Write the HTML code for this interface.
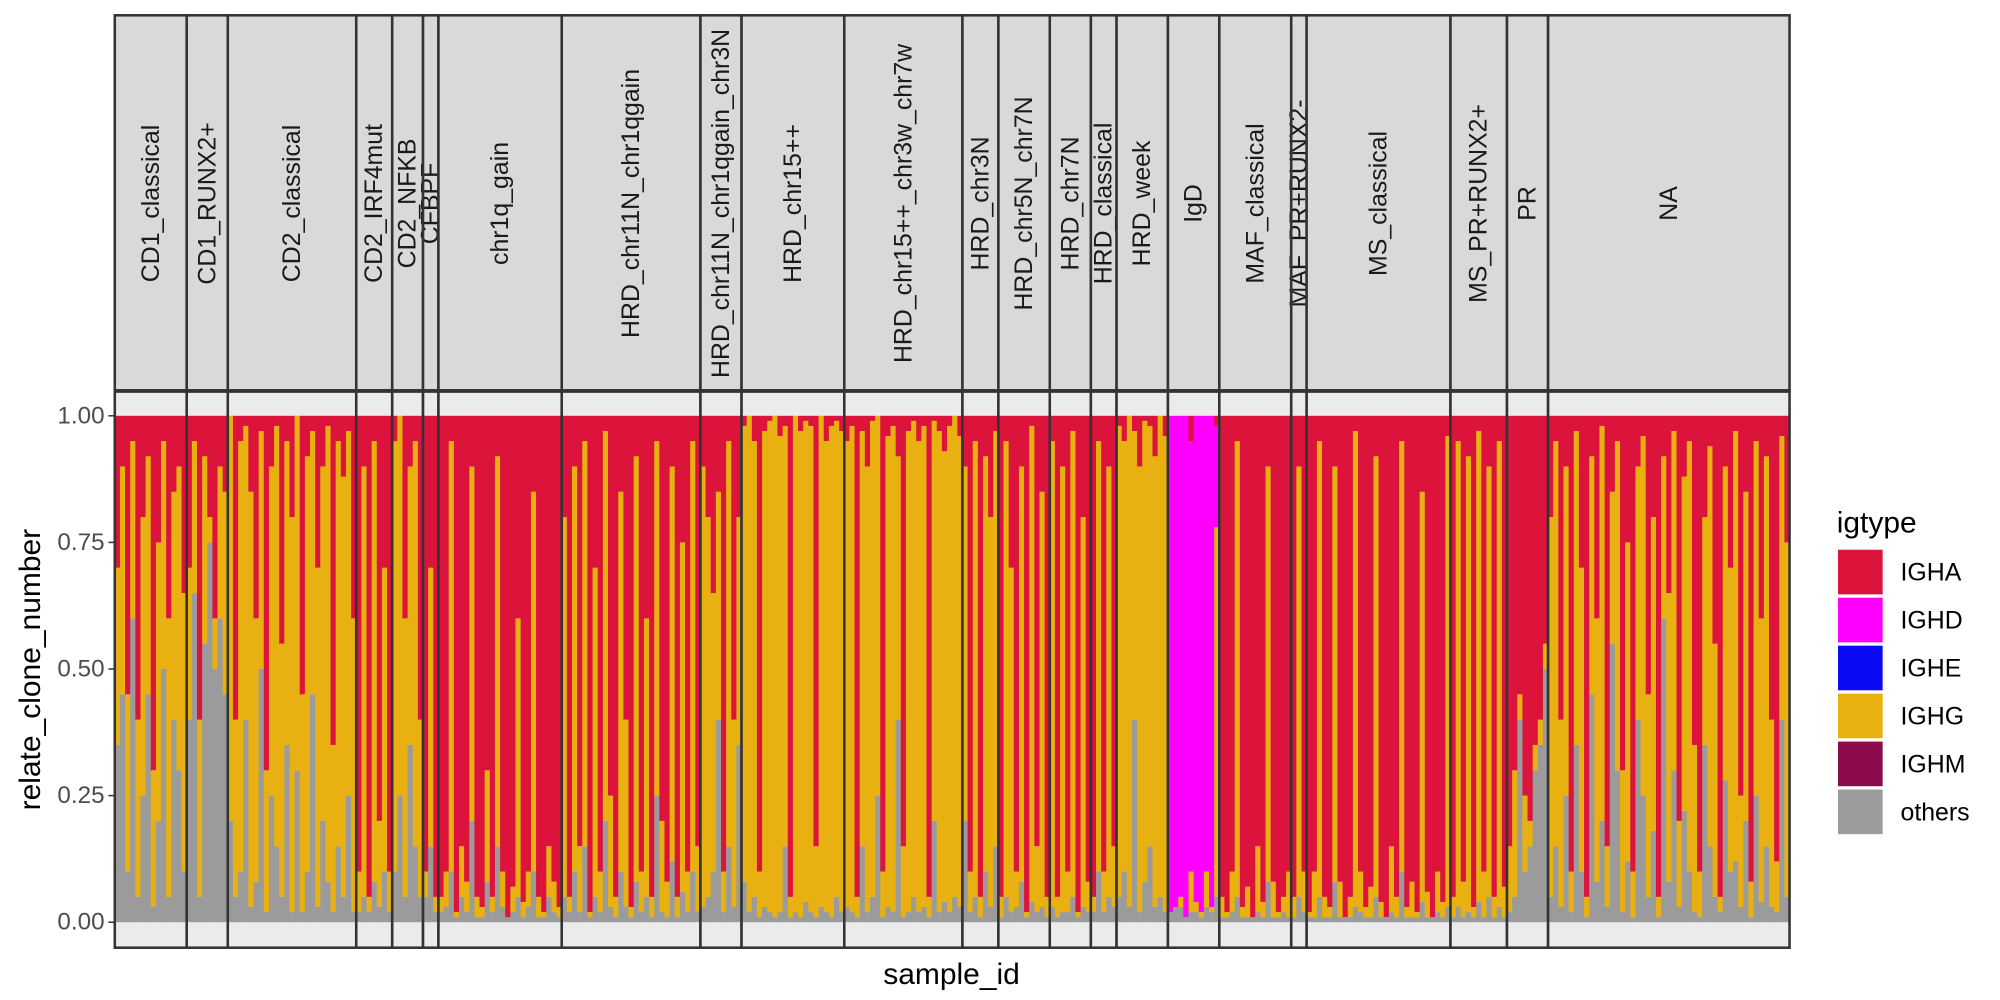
<!DOCTYPE html>
<html><head><meta charset="utf-8"><style>
html,body{margin:0;padding:0;background:#fff;}
svg{display:block;font-family:"Liberation Sans",sans-serif;}
</style></head><body>
<svg id="chart" width="2000" height="1000" viewBox="0 0 1568 784" xmlns="http://www.w3.org/2000/svg">
<g id="panels"></g>
<g id="axes"></g>
<g id="legend"></g>
</svg>
<script>
const facetNames = ["CD1_classical","CD1_RUNX2+","CD2_classical","CD2_IRF4mut","CD2_NFKB","CFBPF","chr1q_gain","HRD_chr11N_chr1qgain","HRD_chr11N_chr1qgain_chr3N","HRD_chr15++","HRD_chr15++_chr3w_chr7w","HRD_chr3N","HRD_chr5N_chr7N","HRD_chr7N","HRD_classical","HRD_week","IgD","MAF_classical","MAF_PR+RUNX2-","MS_classical","MS_PR+RUNX2+","PR","NA"];
const ighaValues = [
 [30,10,55,5,60,20,8,70,25,5,40,15,10,35],
 [30,5,60,8,20,40,10,15],
 [0,60,5,2,15,40,3,70,10,2,45,5,20,0,55,8,3,30,10,2,65,5,12,3,40],
 [90,10,95,5,80,30,90],
 [5,0,40,10,5,60],
 [90,30,95],
 [95,90,5,98,85,92,10,95,97,70,95,8,90,99,93,40,96,90,15,95,98,85,92,97],
 [20,95,10,85,5,98,30,90,3,75,95,15,60,97,8,90,40,95,5,80,92,10,95,25,90,5,85],
 [10,20,35,15,90,5,60,20],
 [2,0,5,90,3,1,0,4,2,95,0,3,1,2,85,0,5,2,1,3],
 [5,2,95,3,10,1,0,90,4,2,8,85,3,1,5,2,95,1,3,7,2,0,4],
 [10,90,5,95,8,20,3],
 [95,5,30,90,10,98,2,85,15,95],
 [5,95,10,90,3,98,20,92],
 [95,5,90,10,85],
 [2,5,0,3,10,1,2,8,0,4],
 [0,0,0,0,5,0,0,0,0,2],
 [95,98,90,5,97,93,99,85,96,10,92,98,95,90],
 [95,10,90],
 [98,90,5,95,97,10,92,99,95,3,90,97,93,8,96,99,85,95,5,97,92,98,15,94,99,90,96,4],
 [95,5,92,8,97,3,90,10,95,5,93],
 [85,70,55,75,80,65,60,45],
 [20,5,60,10,90,3,30,95,8,40,2,85,15,5,70,25,90,10,4,55,20,95,8,35,3,80,12,5,65,90,20,6,45,95,10,30,3,75,15,92,5,40,8,60,88,4,25]
];
const ighdValues = {16:[98,97,95,99,85,96,98,90,97,20]};
const othersValues = [
 [35,45,10,60,5,25,45,3,20,50,5,40,30,10],
 [40,65,5,55,75,50,60,45],
 [20,5,10,40,3,8,50,2,25,15,5,35,2,30,2,10,45,3,20,8,2,15,5,25,2],
 [2,5,2,8,3,10,2],
 [10,25,5,35,15,5],
 [5,15,2],
 [2,3,10,1,5,2,20,1,1,8,2,15,3,1,2,5,1,3,10,1,1,5,2,1],
 [5,2,10,2,15,1,5,2,20,3,1,10,3,1,8,2,5,1,25,2,1,12,1,6,2,10,2],
 [3,5,10,40,2,15,3,35],
 [8,2,5,1,3,2,1,2,15,1,2,1,4,2,1,3,2,1,5,2],
 [3,2,1,15,2,5,25,1,3,2,40,1,2,5,2,3,1,20,2,4,2,5,3],
 [20,2,5,1,10,3,15],
 [1,5,2,3,8,1,4,2,3,1],
 [3,1,2,2,5,1,3,2],
 [2,10,2,5,3],
 [5,10,3,40,2,8,15,3,5,2],
 [2,3,3,1,2,2,1,3,2,5],
 [1,1,2,5,1,1,1,2,1,8,1,1,2,1],
 [1,5,2],
 [1,1,5,1,1,8,1,1,1,3,2,1,1,5,1,1,2,1,10,1,1,1,4,1,1,2,1,3],
 [1,3,1,2,1,4,1,5,1,3,1],
 [2,5,40,10,15,30,35,50],
 [5,15,3,25,2,35,10,1,45,8,20,3,55,30,2,12,1,40,25,5,18,1,60,8,30,3,22,10,2,1,35,15,5,2,28,10,12,3,20,1,25,4,15,3,2,40,5]
];
const yTicks = [0, 0.25, 0.5, 0.75, 1];
const yTickLabels = ["0.00","0.25","0.50","0.75","1.00"];
const legendLabels = ["IGHA","IGHD","IGHE","IGHG","IGHM","others"];
const legendColors = ["#DC143C","#FF00FF","#0A0AF5","#E8B010","#8B0A4B","#9B9B9B"];

const NS="http://www.w3.org/2000/svg";
function mk(tag, attrs, parent){const e=document.createElementNS(NS,tag);for(const k in attrs)e.setAttribute(k,attrs[k]);parent.appendChild(e);return e;}
const PX0=90, PX1=1403, PY0=307, PY1=743, SY0=12;
const yScale=v=>723-(723-326)*v;
const total=ighaValues.reduce((s,a)=>s+a.length,0);
const unit=(PX1-PX0)/total;
const xScale=i=>PX0+i*unit;

const panels=document.getElementById('panels');
let idx=0;
facetNames.forEach((name,f)=>{
  const n=ighaValues[f].length;
  const x0=xScale(idx), x1=xScale(idx+n);
  const g=mk('g',{},panels);
  
  
  const strip=mk('rect',{x:x0,y:SY0,width:x1-x0,height:PY0-SY0-1,fill:'#D9D9D9'},g);
  
  
  const bg=mk('rect',{x:x0,y:PY0,width:x1-x0,height:PY1-PY0,fill:'#EBEBEB'},g);
  
  
  for(let j=0;j<n;j++){
    const o=Math.min(1,othersValues[f][j]/100);
    const d=Math.min(1-o,(ighdValues[f]?ighdValues[f][j]:0)/100);
    const a=Math.min(1-o-d,ighaValues[f][j]/100);
    const gg=Math.max(0,1-a-o-d);
    const segs=[[o,'#9B9B9B','others'],[gg,'#E8B010','IGHG'],[d,'#FF00FF','IGHD'],[a,'#DC143C','IGHA']];
    let cum=0;
    const bx=xScale(idx+j);
    segs.forEach(s=>{
      if(s[0]<=0)return;
      const r=mk('rect',{x:bx,y:yScale(cum+s[0]),width:unit+0.4,height:yScale(cum)-yScale(cum+s[0]),fill:s[1]},g);
      
      
      cum+=s[0];
    });
  }
  const cx=(x0+x1)/2, cy=(SY0+PY0)/2;
  const t=mk('text',{x:cx,y:cy,transform:`rotate(-90 ${cx} ${cy})`,'text-anchor':'middle','dominant-baseline':'central','font-size':19.5,fill:'#1A1A1A'},g);
  t.textContent=name;
  
  
  mk('rect',{x:x0,y:SY0,width:x1-x0,height:PY0-SY0-1,fill:'none',stroke:'#333',"stroke-width":2},g);
  mk('rect',{x:x0,y:PY0,width:x1-x0,height:PY1-PY0,fill:'none',stroke:'#333',"stroke-width":2},g);
  idx+=n;
});

const axes=document.getElementById('axes');
yTicks.forEach((v,i)=>{
  const y=yScale(v);
  const tk=mk('line',{x1:85,x2:90,y1:y,y2:y,stroke:'#333','stroke-width':1.2},axes);
  
  
  const t=mk('text',{x:82,y:y,'text-anchor':'end','dominant-baseline':'central','font-size':19,fill:'#4D4D4D'},axes);
  t.textContent=yTickLabels[i];
  
  
});
const yt=mk('text',{x:24,y:525,transform:'rotate(-90 24 525)','text-anchor':'middle','dominant-baseline':'central','font-size':23.5,fill:'#000'},axes);
yt.textContent='relate_clone_number';


const xt=mk('text',{x:746,y:764,'text-anchor':'middle','dominant-baseline':'central','font-size':23.5,fill:'#000'},axes);
xt.textContent='sample_id';



const legend=document.getElementById('legend');
const lt=mk('text',{x:1440,y:410,'dominant-baseline':'central','font-size':23.5,fill:'#000'},legend);
lt.textContent='igtype';


legendLabels.forEach((lab,i)=>{
  const y=431+i*37.6;
  const k=mk('rect',{x:1441,y:y,width:35,height:35,fill:legendColors[i]},legend);
  
  
  const t=mk('text',{x:1490,y:y+18,'dominant-baseline':'central','font-size':19.5,fill:'#000'},legend);
  t.textContent=lab;
  
  
});
</script>
</body></html>
